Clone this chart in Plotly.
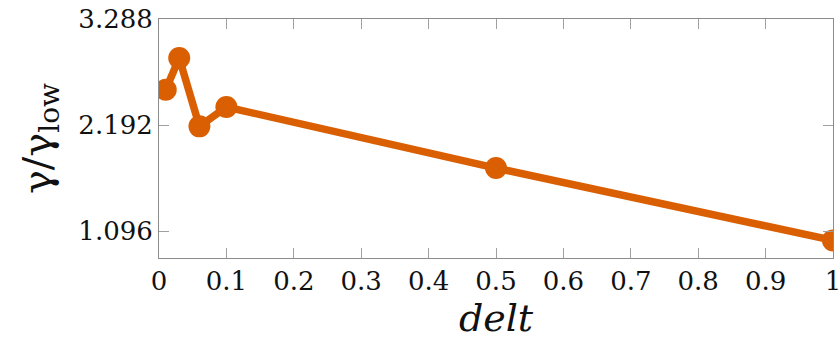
import plotly.graph_objects as go

delt = [0.01, 0.03, 0.06, 0.1, 0.5, 1.0]
gamma_ratio = [2.557, 2.885, 2.178, 2.378, 1.747, 0.999]

y_ticks = [1.096, 2.192, 3.288]
x_ticks = [0, 0.1, 0.2, 0.3, 0.4, 0.5, 0.6, 0.7, 0.8, 0.9, 1]
x_tick_text = ["0", "0.1", "0.2", "0.3", "0.4", "0.5", "0.6", "0.7", "0.8", "0.9", "1"]

orange = "#D95F02"
serif = "DejaVu Serif"

fig = go.Figure(
    go.Scatter(
        x=delt,
        y=gamma_ratio,
        mode="lines+markers",
        line=dict(color=orange, width=7.5),
        marker=dict(color=orange, size=22),
        cliponaxis=True,
        showlegend=False,
    )
)

axis_style = dict(
    showline=True,
    linecolor="#8c8c8c",
    linewidth=1,
    mirror="allticks",
    ticks="inside",
    ticklen=10,
    tickwidth=1,
    tickcolor="#a0a0a0",
    showgrid=False,
    zeroline=False,
    automargin=False,
    ticklabeloverflow="allow",
    tickfont=dict(family=serif, size=26, color="#111111"),
)

fig.update_xaxes(
    range=[0, 1],
    tickvals=x_ticks,
    ticktext=x_tick_text,
    title=dict(text="<i>delt</i>", font=dict(family=serif, size=38, color="#111111"), standoff=6),
    **axis_style,
)
fig.update_yaxes(
    range=[0.817, 3.288],
    tickvals=y_ticks,
    ticktext=[f"{v:.3f}" for v in y_ticks],
    title=dict(text="γ/γ<sub>low</sub>", font=dict(family=serif, size=40, color="#111111"), standoff=14),
    **axis_style,
)

fig.update_layout(
    width=840,
    height=349,
    margin=dict(l=159, r=7, t=19, b=91),
    plot_bgcolor="white",
    paper_bgcolor="white",
    font=dict(family=serif),
)

# drop the default 8px body margin so the figure sits flush in the window
fig.write_html(
    "out.html",
    config={"displayModeBar": False},
    post_script="document.body.style.margin = '0';",
)
